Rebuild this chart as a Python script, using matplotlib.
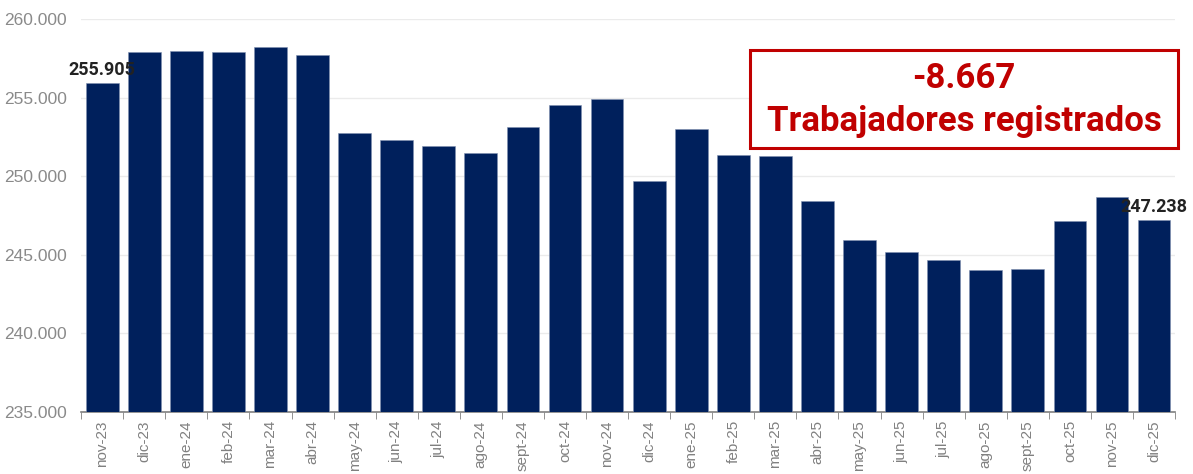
import matplotlib.pyplot as plt
from matplotlib.patches import Rectangle
from matplotlib.ticker import FuncFormatter

months = ["nov-23", "dic-23", "ene-24", "feb-24", "mar-24", "abr-24", "may-24",
          "jun-24", "jul-24", "ago-24", "sept-24", "oct-24", "nov-24", "dic-24",
          "ene-25", "feb-25", "mar-25", "abr-25", "may-25", "jun-25", "jul-25",
          "ago-25", "sept-25", "oct-25", "nov-25", "dic-25"]
workers = [255905, 257900, 257960, 257900, 258200, 257700, 252750,
           252300, 251900, 251500, 253150, 254500, 254900, 249700,
           253000, 251350, 251250, 248450, 245950, 245150, 244650,
           244000, 244100, 247150, 248700, 247238]
change_text = "-8.667"
box_text = "Trabajadores registrados"

fig = plt.figure(figsize=(11.93, 4.74), dpi=100)
ax = fig.add_axes([0.068, 0.131, 0.917, 0.829])

x = list(range(len(months)))
ax.bar(x, workers, width=0.78, color="#00205C", edgecolor="#8090B0", linewidth=0.4, zorder=3)

ax.set_ylim(235000, 260000)
ax.set_xlim(-0.5, len(months) - 0.5)
ax.set_yticks(range(235000, 260001, 5000))
ax.yaxis.set_major_formatter(FuncFormatter(lambda v, p: f"{int(v):,}".replace(",", ".")))
ax.grid(True, axis="y", color="#EBEBEB", linewidth=1, zorder=0)

ax.set_xticks(x)
ax.set_xticklabels(months, rotation=90, fontsize=11, color="#808080", family="Liberation Sans")
ax.set_xticks([i - 0.5 for i in range(len(months) + 1)], minor=True)
ax.tick_params(axis="x", which="major", length=0, pad=6)
ax.tick_params(axis="x", which="minor", length=5, color="#808080")
ax.tick_params(axis="y", length=0, labelsize=12.5, labelcolor="#8a8a8a", pad=10)
for lbl in ax.get_yticklabels():
    lbl.set_family("Liberation Sans")

for s in ["top", "right", "left"]:
    ax.spines[s].set_visible(False)
ax.spines["bottom"].set_color("#808080")
ax.spines["bottom"].set_linewidth(1.2)

# labels on first and last bars
for i in (0, len(months) - 1):
    ax.text(i, workers[i] + 250, f"{workers[i]:,}".replace(",", "."), ha="center", va="bottom",
            fontsize=13, fontweight="bold", color="#222222", family="Roboto", zorder=5)

# annotation box
fig.patches.append(Rectangle((750 / 1193, 1 - 148 / 474), 428 / 1193, 98 / 474,
                             transform=fig.transFigure, fill=True, facecolor="white",
                             edgecolor="#C00000", linewidth=2.2, zorder=10))
fig.text(964 / 1193, 1 - 78 / 474, change_text, ha="center", va="center", fontsize=25,
         fontweight="bold", color="#C00000", family="Roboto", zorder=11)
fig.text(964 / 1193, 1 - 121 / 474, box_text, ha="center", va="center", fontsize=25,
         fontweight="bold", color="#C00000", family="Roboto", zorder=11)

fig.savefig("out.png", dpi=100)
